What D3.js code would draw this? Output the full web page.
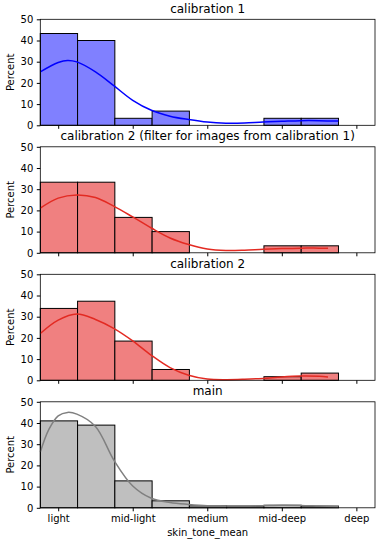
<!DOCTYPE html>
<html>
<head>
<meta charset="utf-8">
<script src="https://cdn.jsdelivr.net/npm/d3@7"></script>
<style>
  body { margin: 0; background: #fff; }
  svg { display: block; font-family: "DejaVu Sans", sans-serif; }
</style>
</head>
<body>
<div id="chart"></div>
<script>
// categories on the x axis (positions 0..4)
const categories = ["light", "mid-light", "medium", "mid-deep", "deep"];
const yTicks = [0, 10, 20, 30, 40, 50];
const binEdges = [-0.24, 0.26, 0.76, 1.26, 1.76, 2.26, 2.76, 3.26, 3.76];

const titles = [
  "calibration 1",
  "calibration 2 (filter for images from calibration 1)",
  "calibration 2",
  "main"
];

// histogram percentages per bin
const cal1Pct = [43.3, 40.0, 3.3, 6.7, 0, 0, 3.3, 3.3];
const cal2FiltPct = [33.3, 33.3, 16.7, 10.0, 0, 0, 3.3, 3.3];
const cal2Pct = [33.9, 37.3, 18.5, 5.1, 0, 0, 1.7, 3.4];
const mainPct = [41.0, 39.0, 12.7, 3.3, 0.9, 0.8, 1.2, 0.8];

// kde curves
const cal1KdeX = [-0.24, 0, 0.125, 0.25, 0.5, 0.75, 1, 1.25, 1.5, 1.75, 2, 2.25, 2.5, 2.75, 3, 3.25, 3.5, 3.76];
const cal1KdeY = [25.2, 29.6, 30.6, 29.9, 25.2, 18.6, 11.8, 7.1, 4.3, 2.7, 1.5, 1.0, 1.1, 1.6, 1.9, 2.2, 2.2, 2.0];
const cal2FiltKdeX = [-0.24, 0, 0.25, 0.5, 0.75, 1, 1.25, 1.5, 1.75, 2, 2.25, 2.5, 2.75, 3, 3.25, 3.5, 3.62];
const cal2FiltKdeY = [21.1, 25.8, 27.3, 26.1, 21.9, 16.9, 11.7, 7.0, 3.9, 1.8, 1.1, 1.25, 1.7, 2.0, 2.2, 2.2, 2.2];
const cal2KdeX = [-0.24, 0, 0.25, 0.5, 0.75, 1, 1.25, 1.5, 1.75, 2, 2.25, 2.5, 2.75, 3, 3.25, 3.5, 3.62];
const cal2KdeY = [22.1, 28.4, 31.3, 28.7, 24.4, 18.6, 11.8, 6.0, 2.4, 0.6, 0.3, 0.5, 0.9, 1.6, 2.0, 1.9, 1.6];
const mainKdeX = [-0.24, -0.125, 0, 0.125, 0.25, 0.5, 0.75, 1, 1.25, 1.5, 1.75, 2, 2.25, 2.5, 2.75, 3, 3.25, 3.5, 3.76];
const mainKdeY = [26.3, 37.0, 43.4, 45.0, 44.2, 38.4, 22.3, 10.3, 4.5, 2.5, 1.6, 1.0, 0.9, 0.8, 1.0, 1.2, 1.1, 0.8, 0.5];

const panels = [
  { pct: cal1Pct, kx: cal1KdeX, ky: cal1KdeY, fill: "#8080ff", line: "#0000ff" },
  { pct: cal2FiltPct, kx: cal2FiltKdeX, ky: cal2FiltKdeY, fill: "#f08080", line: "#e32a22" },
  { pct: cal2Pct, kx: cal2KdeX, ky: cal2KdeY, fill: "#f08080", line: "#e32a22" },
  { pct: mainPct, kx: mainKdeX, ky: mainKdeY, fill: "#bfbfbf", line: "#808080" }
];

const width = 382, height = 544;
const left = 40.3, right = 375;
const panelH = 106, firstTop = 19.3, step = 127.5;

const svg = d3.select("#chart").append("svg")
  .attr("width", width)
  .attr("height", height);

const x = d3.scaleLinear().domain([-0.24, 4.25]).range([left, right]);

panels.forEach((p, i) => {
  const top = firstTop + i * step;
  const y = d3.scaleLinear().domain([0, 50]).range([top + panelH, top]);
  const g = svg.append("g");

  // bars
  g.selectAll("rect.bar")
    .data(p.pct)
    .enter().append("rect")
      .attr("class", "bar")
      .attr("x", (d, j) => x(binEdges[j]))
      .attr("width", (d, j) => x(binEdges[j + 1]) - x(binEdges[j]))
      .attr("y", d => y(d))
      .attr("height", d => y(0) - y(d))
      .attr("fill", p.fill)
      .attr("stroke", "#000")
      .attr("stroke-width", 1);

  // kde
  const pts = p.kx.map((v, j) => [v, p.ky[j]]);
  g.append("path")
    .attr("d", d3.line().x(d => x(d[0])).y(d => y(d[1])).curve(d3.curveCatmullRom.alpha(0.5))(pts))
    .attr("fill", "none")
    .attr("stroke", p.line)
    .attr("stroke-width", 1.5);

  // y axis
  const ya = g.append("g")
    .attr("transform", `translate(${left},0)`)
    .call(d3.axisLeft(y).tickValues(yTicks).tickSize(3.5).tickPadding(3.5));
  ya.select(".domain").remove();
  ya.selectAll("text").attr("font-size", 10).attr("font-family", "DejaVu Sans").attr("fill", "#000");

  // x axis
  const xa = g.append("g")
    .attr("transform", `translate(0,${top + panelH})`)
    .call(d3.axisBottom(x).tickValues([0, 1, 2, 3, 4])
      .tickFormat(d => i === panels.length - 1 ? categories[d] : "")
      .tickSize(3.5).tickPadding(3.5));
  xa.select(".domain").remove();
  xa.selectAll("text").attr("font-size", 10).attr("font-family", "DejaVu Sans").attr("fill", "#000");

  // frame
  g.append("rect")
    .attr("x", left).attr("y", top)
    .attr("width", right - left).attr("height", panelH)
    .attr("fill", "none").attr("stroke", "#000").attr("stroke-width", 0.8);

  // title
  g.append("text")
    .attr("x", (left + right) / 2)
    .attr("y", top - 6.5)
    .attr("text-anchor", "middle")
    .attr("font-size", 12)
    .text(titles[i]);

  // y label
  g.append("text")
    .attr("transform", `translate(14,${top + panelH / 2}) rotate(-90)`)
    .attr("text-anchor", "middle")
    .attr("font-size", 10)
    .text("Percent");
});

svg.append("text")
  .attr("x", (left + right) / 2)
  .attr("y", 536)
  .attr("text-anchor", "middle")
  .attr("font-size", 10)
  .text("skin_tone_mean");
</script>
</body>
</html>
